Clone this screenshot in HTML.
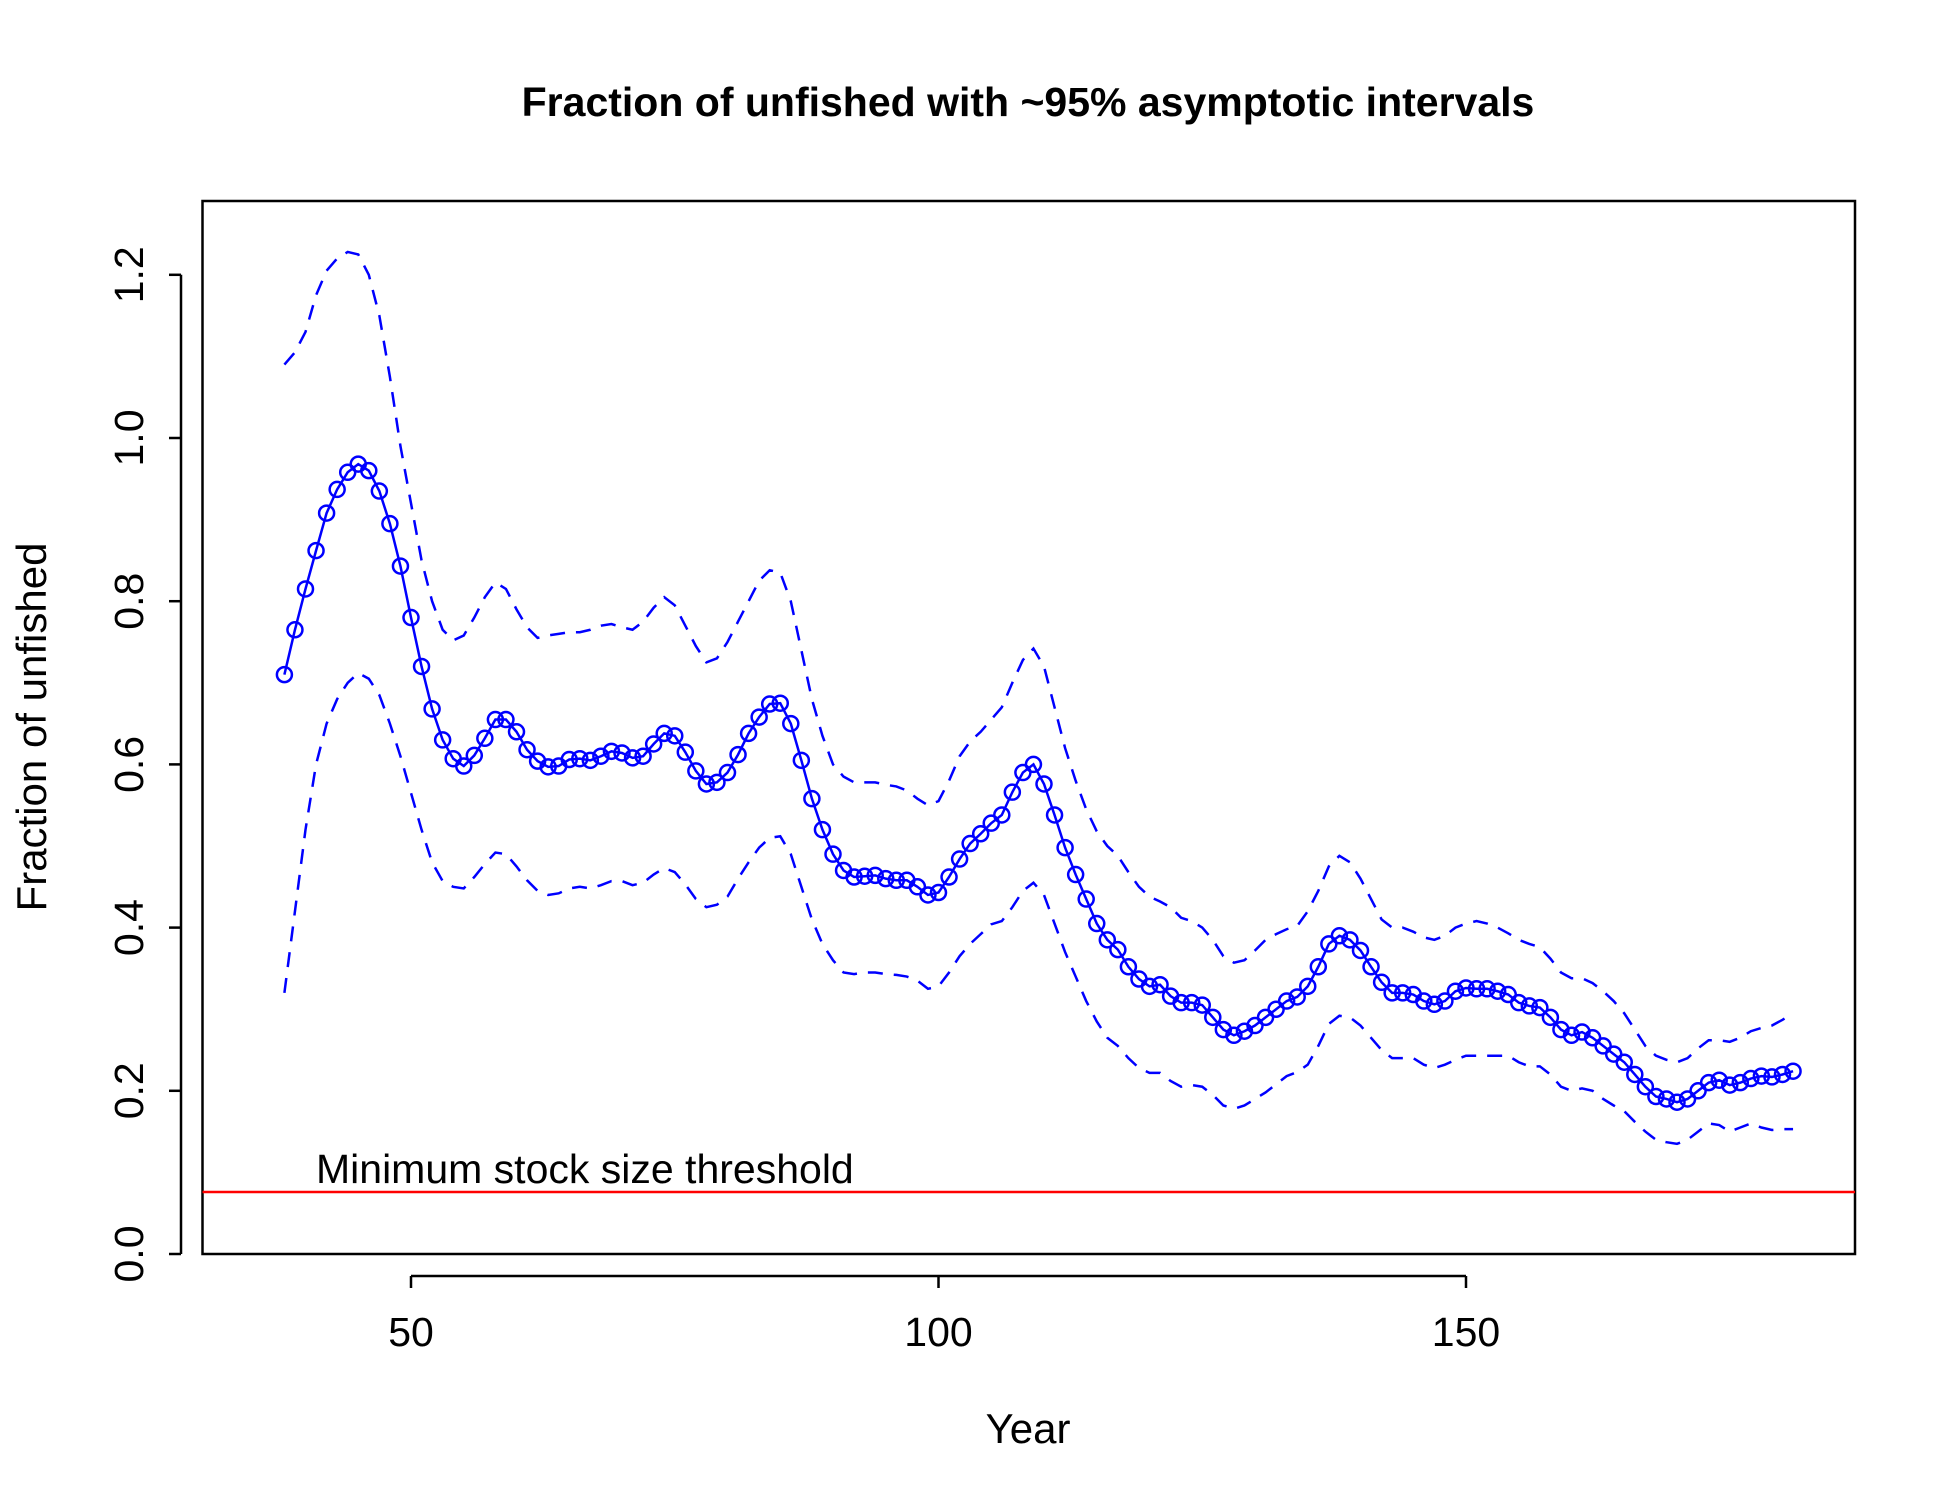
<!DOCTYPE html>
<html><head><meta charset="utf-8"><style>
html,body{margin:0;padding:0;background:#fff}
svg{display:block}
text{font-family:"Liberation Sans",Arial,sans-serif}
</style></head><body>
<svg id="chart" width="1950" height="1500" viewBox="0 0 1950 1500" xmlns="http://www.w3.org/2000/svg">
<rect width="1950" height="1500" fill="#fff"/>
<text x="1028" y="116" text-anchor="middle" font-size="41" font-weight="bold">Fraction of unfished with ~95% asymptotic intervals</text>
<rect x="202.5" y="201" width="1652.5" height="1053" fill="none" stroke="#000" stroke-width="2.5"/>
<g id="axes"></g>
<g id="series"></g>
<text x="1028" y="1443" text-anchor="middle" font-size="42">Year</text>
<text transform="translate(46,727) rotate(-90)" text-anchor="middle" font-size="42">Fraction of unfished</text>
</svg>
<script>
const years = [];
for (let y = 38; y <= 181; y++) years.push(y);
const fraction = [0.71,0.765,0.815,0.862,0.908,0.937,0.958,0.968,0.96,0.935,0.895,0.843,0.78,0.72,0.668,0.63,0.607,0.598,0.611,0.632,0.655,0.655,0.64,0.618,0.604,0.597,0.598,0.606,0.607,0.605,0.61,0.616,0.614,0.608,0.61,0.625,0.638,0.635,0.615,0.592,0.576,0.578,0.59,0.612,0.638,0.658,0.674,0.675,0.65,0.605,0.558,0.52,0.49,0.47,0.462,0.463,0.464,0.46,0.458,0.458,0.45,0.44,0.443,0.462,0.484,0.503,0.515,0.528,0.538,0.566,0.59,0.6,0.576,0.538,0.498,0.465,0.435,0.405,0.385,0.373,0.352,0.337,0.328,0.33,0.316,0.308,0.308,0.305,0.29,0.275,0.268,0.273,0.28,0.29,0.3,0.31,0.315,0.328,0.352,0.38,0.39,0.385,0.372,0.352,0.333,0.32,0.32,0.318,0.31,0.306,0.31,0.322,0.326,0.325,0.325,0.322,0.318,0.308,0.304,0.302,0.29,0.275,0.268,0.272,0.265,0.255,0.245,0.235,0.22,0.205,0.193,0.19,0.186,0.19,0.2,0.21,0.213,0.207,0.21,0.215,0.218,0.217,0.22,0.224];
const upper = [1.09,1.105,1.13,1.175,1.205,1.22,1.228,1.225,1.2,1.15,1.075,0.99,0.92,0.85,0.8,0.765,0.752,0.758,0.78,0.805,0.823,0.815,0.79,0.768,0.755,0.758,0.76,0.762,0.762,0.765,0.77,0.772,0.768,0.765,0.775,0.792,0.805,0.795,0.77,0.745,0.725,0.73,0.75,0.775,0.8,0.825,0.838,0.835,0.8,0.74,0.68,0.635,0.6,0.585,0.578,0.578,0.578,0.575,0.573,0.568,0.558,0.55,0.555,0.58,0.61,0.628,0.64,0.655,0.67,0.7,0.728,0.742,0.72,0.67,0.62,0.58,0.545,0.518,0.5,0.488,0.468,0.45,0.438,0.432,0.425,0.412,0.408,0.4,0.385,0.365,0.357,0.36,0.372,0.385,0.392,0.398,0.402,0.42,0.445,0.475,0.488,0.48,0.46,0.435,0.41,0.4,0.4,0.395,0.388,0.385,0.39,0.4,0.405,0.408,0.405,0.4,0.393,0.385,0.38,0.376,0.362,0.345,0.338,0.338,0.332,0.322,0.31,0.295,0.275,0.255,0.243,0.238,0.235,0.24,0.252,0.262,0.262,0.26,0.265,0.273,0.277,0.28,0.287,0.295];
const lower = [0.32,0.42,0.52,0.6,0.65,0.68,0.7,0.712,0.705,0.685,0.65,0.61,0.565,0.52,0.48,0.457,0.45,0.448,0.462,0.478,0.492,0.49,0.475,0.458,0.445,0.44,0.442,0.448,0.45,0.448,0.452,0.457,0.457,0.452,0.455,0.465,0.473,0.468,0.453,0.435,0.425,0.428,0.438,0.46,0.48,0.498,0.51,0.512,0.49,0.45,0.41,0.38,0.36,0.345,0.343,0.345,0.345,0.343,0.342,0.34,0.335,0.325,0.328,0.345,0.365,0.38,0.392,0.404,0.408,0.425,0.445,0.455,0.44,0.405,0.37,0.34,0.31,0.285,0.265,0.255,0.24,0.228,0.222,0.222,0.212,0.205,0.207,0.205,0.195,0.182,0.178,0.182,0.19,0.198,0.208,0.218,0.223,0.232,0.255,0.282,0.292,0.29,0.28,0.265,0.25,0.24,0.24,0.24,0.232,0.228,0.232,0.238,0.243,0.243,0.243,0.243,0.243,0.235,0.23,0.23,0.22,0.205,0.2,0.203,0.2,0.19,0.182,0.175,0.162,0.15,0.14,0.137,0.135,0.14,0.15,0.16,0.158,0.15,0.155,0.16,0.155,0.152,0.153,0.153];
const threshold = [0.076];
const xTicks = [50, 100, 150];
const yTicks = [0, 0.2, 0.4, 0.6, 0.8, 1.0, 1.2];
const yTickLabels = ["0.0","0.2","0.4","0.6","0.8","1.0","1.2"];

const NS = "http://www.w3.org/2000/svg";
const X = v => 411 + (v - 50) * 10.55;
const Y = v => 1254 - v * 816;
const axes = document.getElementById('axes');
const series = document.getElementById('series');
function mk(tag, attrs, parent) {
  const e = document.createElementNS(NS, tag);
  for (const k in attrs) e.setAttribute(k, attrs[k]);
  parent.appendChild(e);
  return e;
}
const yl = mk('line', {x1:181, x2:181, y1:Y(yTicks[0]), y2:Y(yTicks[yTicks.length-1]), stroke:'#000', 'stroke-width':2.5}, axes);


yTicks.forEach((v, i) => {
  const t = mk('line', {x1:169, x2:181, y1:Y(v), y2:Y(v), stroke:'#000', 'stroke-width':2.5}, axes);
  
  
  const l = mk('text', {transform:`translate(143,${Y(v)}) rotate(-90)`, 'text-anchor':'middle', 'font-size':41}, axes);
  
  
  l.textContent = yTickLabels[i];
});
const xl = mk('line', {x1:X(xTicks[0]), x2:X(xTicks[xTicks.length-1]), y1:1276, y2:1276, stroke:'#000', 'stroke-width':2.5}, axes);


xTicks.forEach(v => {
  const t = mk('line', {x1:X(v), x2:X(v), y1:1276, y2:1288, stroke:'#000', 'stroke-width':2.5}, axes);
  
  
  const l = mk('text', {x:X(v), y:1346, 'text-anchor':'middle', 'font-size':41}, axes);
  
  
  l.textContent = String(v);
});
const th = mk('line', {x1:202.5, x2:1855, y1:Y(threshold[0]), y2:Y(threshold[0]), stroke:'#ff0000', 'stroke-width':2.5}, series);


const tt = mk('text', {x:316, y:Y(threshold[0]) - 9, 'font-size':41}, series);


tt.textContent = 'Minimum stock size threshold';
function pts(arr) { return arr.map((v, i) => X(years[i]) + ',' + Y(v)).join(' '); }
const up = mk('polyline', {points:pts(upper), fill:'none', stroke:'#0000ff', 'stroke-width':2.5, 'stroke-dasharray':'15 11'}, series);


const lo = mk('polyline', {points:pts(lower), fill:'none', stroke:'#0000ff', 'stroke-width':2.5, 'stroke-dasharray':'15 11'}, series);


const ml = mk('polyline', {points:pts(fraction), fill:'none', stroke:'#0000ff', 'stroke-width':2.5}, series);


fraction.forEach((v, i) => {
  const c = mk('circle', {cx:X(years[i]), cy:Y(v), r:7.5, fill:'none', stroke:'#0000ff', 'stroke-width':2.5}, series);
  
  
});
</script>
</body></html>
